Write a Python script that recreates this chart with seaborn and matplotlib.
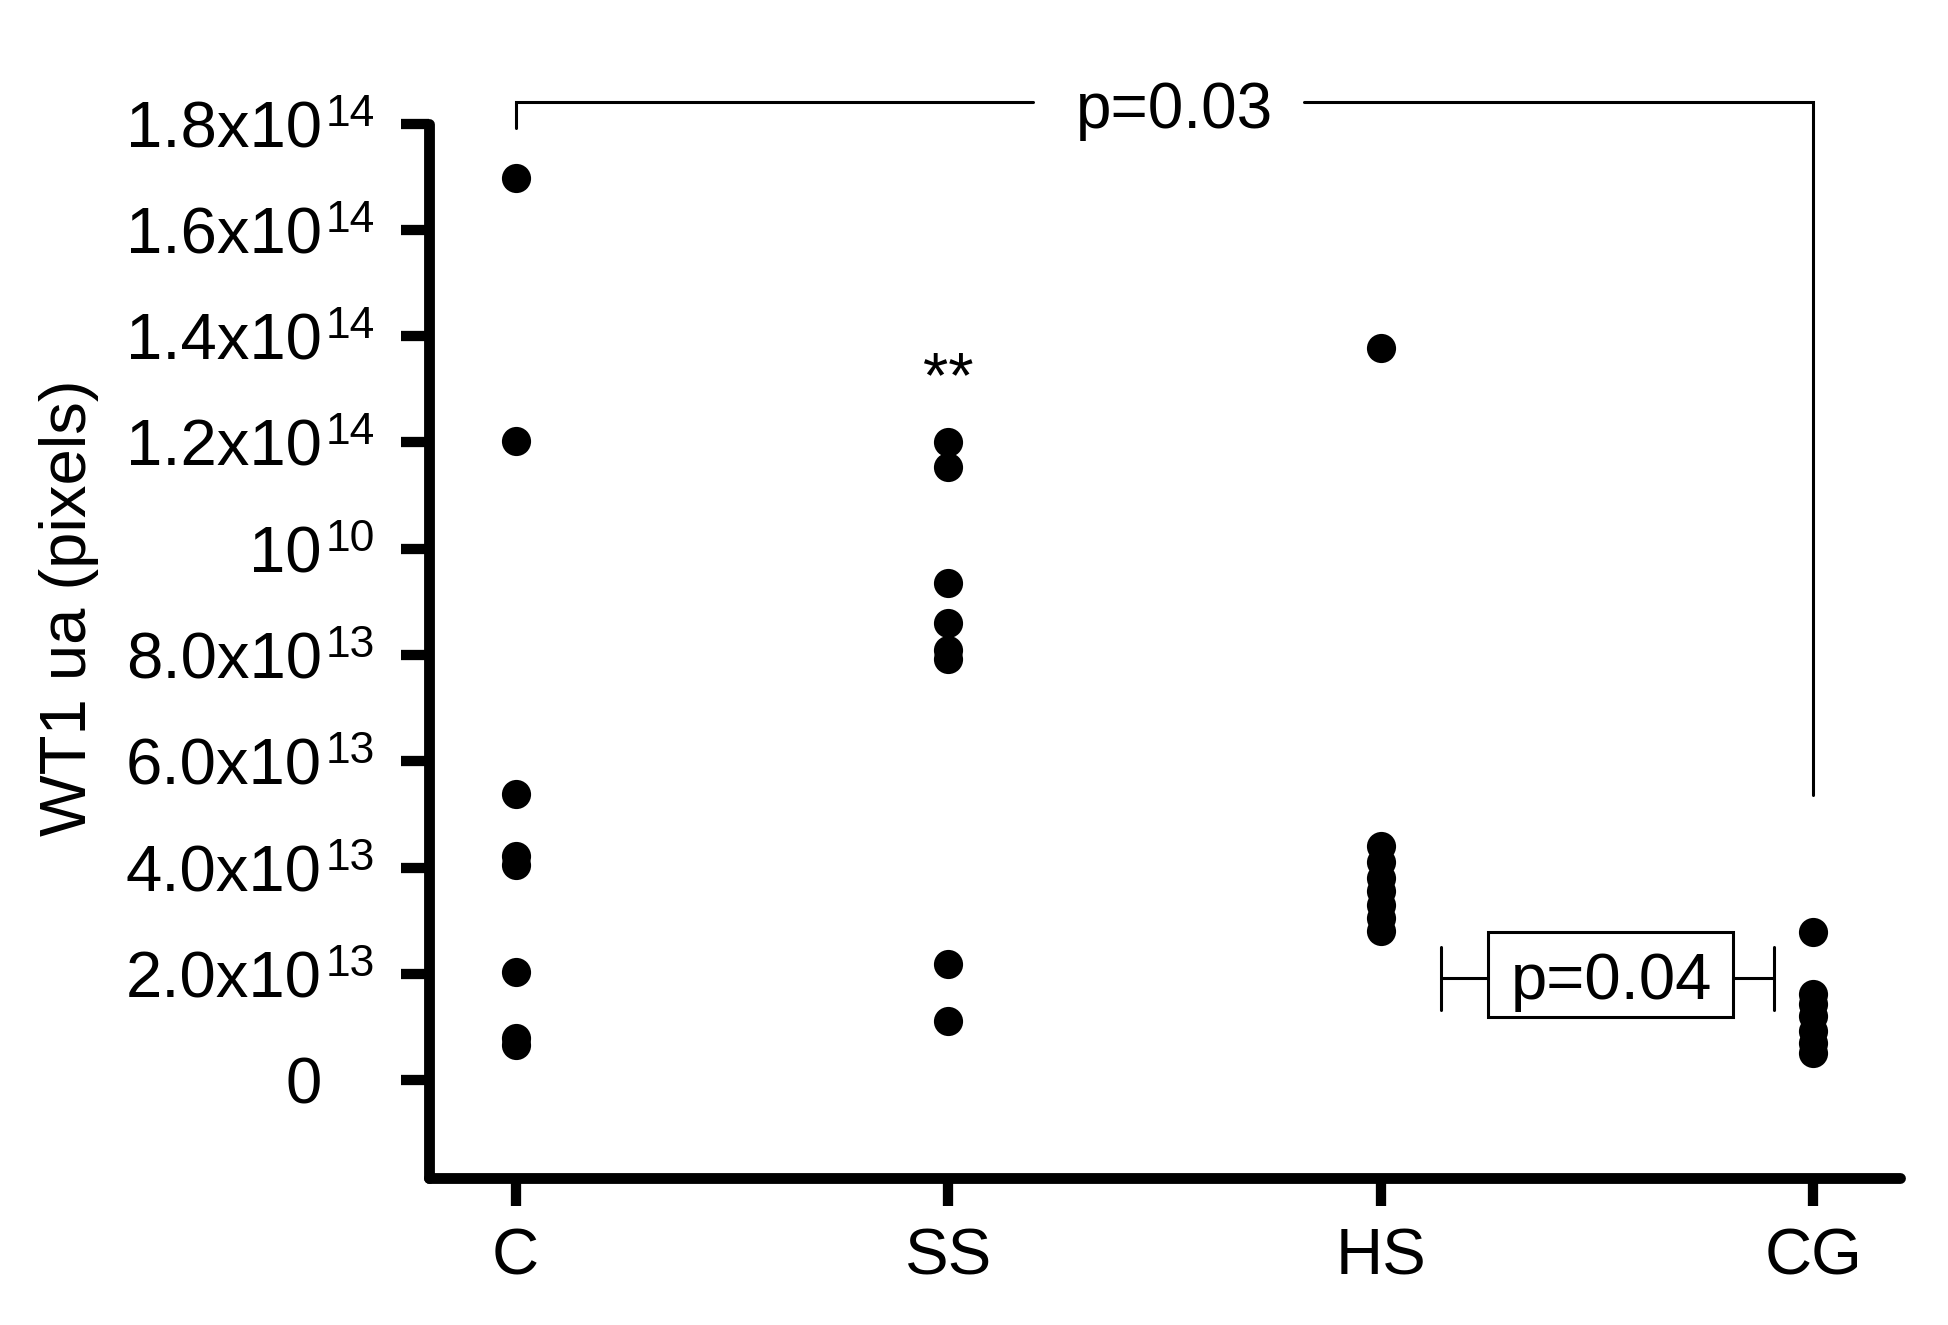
import matplotlib
matplotlib.use("Agg")
import numpy as np
import pandas as pd
import seaborn as sns
import matplotlib.pyplot as plt
from matplotlib.patches import Rectangle

# ---------------- data (values in units of 1e13 pixels) ----------------
groups = ["C", "SS", "HS", "CG"]
c_vals = [16.98, 12.02, 5.38, 4.22, 4.05, 2.04, 0.80, 0.66]
ss_vals = [12.01, 11.53, 9.35, 8.61, 8.10, 7.92, 2.18, 1.12]
hs_vals = [13.78, 4.41, 4.11, 3.81, 3.55, 3.30, 3.05, 2.81]
cg_vals = [2.79, 1.63, 1.44, 1.21, 0.93, 0.70, 0.51]
unit = 1e13

ytick_values = [0, 2e13, 4e13, 6e13, 8e13, 10e13, 12e13, 14e13, 16e13, 18e13]
ytick_base = ["0", "2.0x10", "4.0x10", "6.0x10", "8.0x10", "10",
              "1.2x10", "1.4x10", "1.6x10", "1.8x10"]
ytick_exp = ["", "13", "13", "13", "13", "10", "14", "14", "14", "14"]

ylabel = "WT1 ua (pixels)"
p_all = "p=0.03"
p_hs_cg = "p=0.04"
sig_ss = "**"

# ---------------- build table ----------------
rows = []
for g, vals in zip(groups, [c_vals, ss_vals, hs_vals, cg_vals]):
    for v in vals:
        rows.append({"group": g, "value": v * unit})
df = pd.DataFrame(rows)

# ---------------- style ----------------
sns.set_style("ticks")
plt.rcParams["font.family"] = ["Liberation Sans", "DejaVu Sans"]
plt.rcParams["text.color"] = "black"
plt.rcParams["axes.labelcolor"] = "black"
plt.rcParams["xtick.color"] = "black"
plt.rcParams["ytick.color"] = "black"

W, H = 1948, 1325
fig = plt.figure(figsize=(W / 100, H / 100), dpi=100)
ax = fig.add_axes([428.6 / W, 1 - 1177.7 / H, (1900 - 428.6) / W, (1177.7 - 123.5) / H])

sns.stripplot(data=df, x="group", y="value", order=groups, jitter=False,
              color="black", size=21, linewidth=0, ax=ax, zorder=3)

ax.set_xlim(-0.201, 3.2)
ax.set_ylim(-1.835e13, 1.8e14)

for s in ["top", "right"]:
    ax.spines[s].set_visible(False)
for s in ["left", "bottom"]:
    ax.spines[s].set_linewidth(7.8)
    ax.spines[s].set_color("black")
    ax.spines[s].set_capstyle("round")

ax.set_yticks(ytick_values)
ax.set_yticklabels(ytick_base)
ax.set_xticks(range(len(groups)))
ax.set_xticklabels(groups)
ax.set_xlabel("")
ax.set_ylabel("")
ax.tick_params(axis="both", direction="out", length=20, width=7.4, color="black",
               labelsize=47, labelcolor="black")
ax.tick_params(axis="y", pad=57)
ax.tick_params(axis="x", pad=16)

# exponents on the y tick labels
for v, e in zip(ytick_values, ytick_exp):
    if e:
        ax.annotate(e, xy=(0, v), xycoords=("axes fraction", "data"),
                    xytext=(-74.5, -1.5), textcoords="offset points",
                    fontsize=32, ha="left", va="baseline", annotation_clip=False,
                    color="black")

fig.text(69 / W, 1 - 608 / H, ylabel, rotation=90, ha="center", va="center",
         fontsize=47, color="black")

# p=0.03 bracket C vs CG
lw = 2.2
ax.plot([0, 0, 1.195], [17.92e13, 18.41e13, 18.41e13], color="black", lw=lw,
        clip_on=False, solid_joinstyle="miter")
ax.plot([1.822, 3, 3], [18.41e13, 18.41e13, 5.37e13], color="black", lw=lw,
        clip_on=False, solid_joinstyle="miter")
ax.text(1.523, 17.91e13, p_all, ha="center", va="baseline", fontsize=46,
        clip_on=False, color="black")

# p=0.04 HS vs CG
ax.plot([2.139, 2.139], [1.32e13, 2.51e13], color="black", lw=lw)
ax.plot([2.139, 2.247], [1.923e13, 1.923e13], color="black", lw=lw)
ax.plot([2.908, 2.908], [1.32e13, 2.51e13], color="black", lw=lw)
ax.plot([2.815, 2.908], [1.923e13, 1.923e13], color="black", lw=lw)
ax.add_patch(Rectangle((2.247, 1.18e13), 2.815 - 2.247, 2.78e13 - 1.18e13,
                       fill=False, edgecolor="black", lw=lw))
ax.text(2.534, 1.528e13, p_hs_cg, ha="center", va="baseline", fontsize=47,
        color="black")

# ** over SS
ax.text(1, 12.85e13, sig_ss, ha="center", va="baseline", fontsize=47, color="black")

fig.savefig("out.png", dpi=100, facecolor="white")
